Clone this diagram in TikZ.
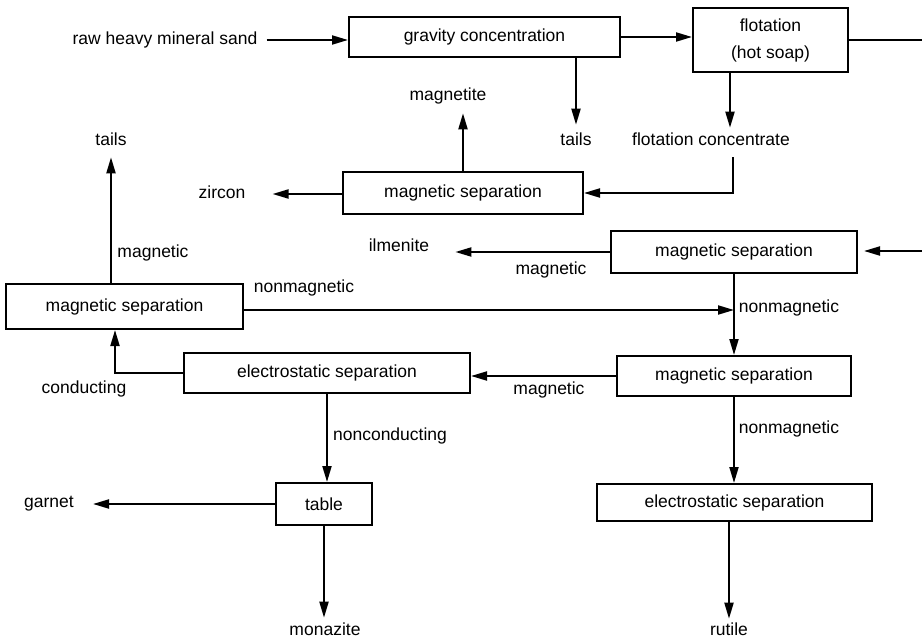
\documentclass[tikz,border=0pt]{standalone}
\usepackage{fontspec}
\setmainfont{Liberation Sans}
\usetikzlibrary{arrows.meta}
\begin{document}
\begin{tikzpicture}[x=1pt,y=-1pt,
  every node/.style={font=\fontsize{17.5}{27}\selectfont},
  proc/.style={draw,line width=2pt,inner sep=0pt,align=center},
  lbl/.style={inner sep=0pt,text height=12.5pt,text depth=3.7pt},
  arr/.style={line width=2pt,-{Triangle[length=16pt,width=9pt]}},
  ln/.style={line width=2pt}]
\useasboundingbox (0,0) rectangle (922,642);

% process boxes
\node[proc,minimum width=271pt,minimum height=40pt] (grav) at (484.5,37) {gravity concentration};
\node[proc,minimum width=155pt,minimum height=64pt] (flot) at (770.5,40) {flotation\\(hot soap)};
\node[proc,minimum width=240pt,minimum height=42pt] (ms1) at (463,193) {magnetic separation};
\node[proc,minimum width=246pt,minimum height=42pt] (ms2) at (734,252) {magnetic separation};
\node[proc,minimum width=237pt,minimum height=45pt] (ms3) at (124.5,306.5) {magnetic separation};
\node[proc,minimum width=234pt,minimum height=40pt] (ms4) at (734,376) {magnetic separation};
\node[proc,minimum width=286pt,minimum height=40pt] (es1) at (327,373) {electrostatic separation};
\node[proc,minimum width=96pt,minimum height=42pt] (table) at (324,504) {table};
\node[proc,minimum width=275pt,minimum height=37pt] (es2) at (734.5,502.5) {electrostatic separation};

% stream names and labels
\node[lbl] (raw) at (165,40) {raw heavy mineral sand};
\node[lbl] (tailsA) at (576,141) {tails};
\node[lbl] (flotconc) at (711,141) {flotation concentrate};
\node[lbl] (magnetite) at (448,96) {magnetite};
\node[lbl] (zircon) at (222,194) {zircon};
\node[lbl] (ilmenite) at (399,247) {ilmenite};
\node[lbl] (tailsB) at (111,141) {tails};
\node[lbl] (lmagA) at (153,253) {magnetic};
\node[lbl] (lmagB) at (551,270) {magnetic};
\node[lbl] (lnonA) at (304,288) {nonmagnetic};
\node[lbl] (lnonB) at (789,308) {nonmagnetic};
\node[lbl] (lmagC) at (549,390) {magnetic};
\node[lbl] (lcond) at (84,389) {conducting};
\node[lbl] (lnoncond) at (390,436) {nonconducting};
\node[lbl] (lnonC) at (789,429) {nonmagnetic};
\node[lbl] (garnet) at (49,503) {garnet};
\node[lbl] (monazite) at (325,631) {monazite};
\node[lbl] (rutile) at (729,631) {rutile};

% streams leaving at the right edge
\coordinate (outR) at (922,38);
\coordinate (inR) at (922,251);

% connectors
\draw[arr,shorten <=9pt] (raw.east) -- (raw.east -| grav.west);
\draw[arr] (grav.east) -- (grav.east -| flot.west);
\draw[ln] (flot.east) -- (flot.east -| outR);
\draw[arr,shorten >=8pt] (grav.south -| tailsA) -- (tailsA.north);
\draw[arr,shorten >=5pt] ([xshift=-40.5pt]flot.south) -- ([xshift=-40.5pt]flot.south |- flotconc.north);
\draw[arr,shorten <=8pt] ([xshift=22pt]flotconc.south) |- (ms1.east);
\draw[arr,shorten >=9pt] (ms1.north) -- (ms1.north |- magnetite.south);
\draw[arr,shorten >=27pt] (ms1.west |- zircon) -- (zircon.east);
\draw[arr,shorten >=6pt] (inR) -- (inR -| ms2.east);
\draw[arr,shorten >=26pt] (ms2.west) -- (ms2.west -| ilmenite.east);
\draw[arr,shorten >=8pt] (ms3.north -| tailsB) -- (tailsB.south);
\draw[arr] ([yshift=-3.5pt]ms3.east) -- ([yshift=-3.5pt]ms3.east -| ms2.south);
\draw[arr] (ms2.south) -- (ms2.south |- ms4.north);
\draw[arr] (ms4.west) -- (ms4.west -| es1.east);
\draw[arr] (es1.west) -| ([xshift=-9.5pt]ms3.south);
\draw[arr] (es1.south) -- (es1.south |- table.north);
\draw[arr,shorten >=19pt] (table.west) -- (table.west -| garnet.east);
\draw[arr,shorten >=5pt] (table.south) -- (table.south |- monazite.north);
\draw[arr] (ms4.south) -- (ms4.south |- es2.north);
\draw[arr,shorten >=4pt] (es2.south -| rutile) -- (rutile.north);
\end{tikzpicture}
\end{document}
